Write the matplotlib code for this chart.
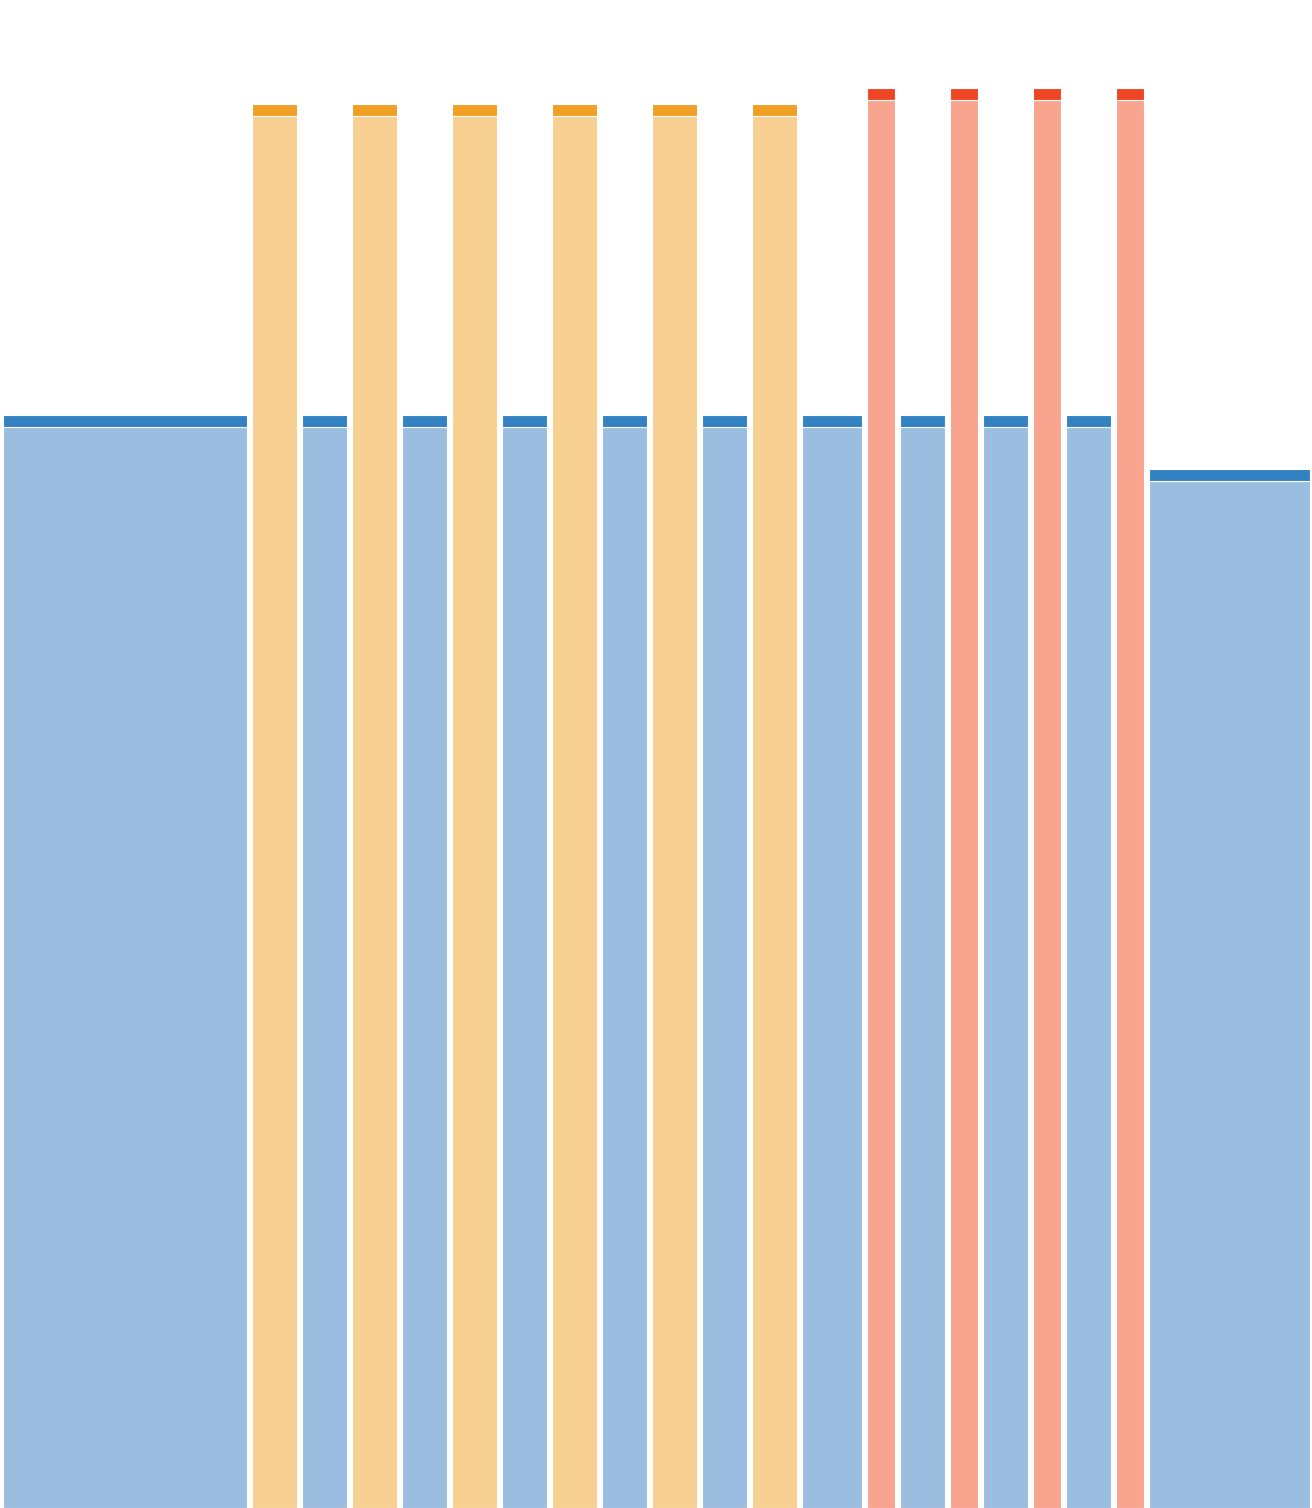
import matplotlib
matplotlib.use("Agg")
import matplotlib.pyplot as plt

# ширины столбцов (в пикселях исходника) и их группы
widths = [244, 45, 45, 45, 45, 45, 45, 45, 45, 45, 45, 45, 60,
          28, 45, 28, 45, 28, 45, 28, 161]
groups = ["blue", "orange", "blue", "orange", "blue", "orange", "blue",
          "orange", "blue", "orange", "blue", "orange", "blue",
          "red", "blue", "red", "blue", "red", "blue", "red", "blue"]

# высота основной части и «шапки» каждого столбца
body = [1081, 1392, 1081, 1392, 1081, 1392, 1081, 1392, 1081, 1392, 1081,
        1392, 1081, 1408, 1081, 1408, 1081, 1408, 1081, 1408, 1027]
cap = [12] * 21

light = {"blue": "#9bbee0", "orange": "#f7d092", "red": "#f8a48e"}
dark = {"blue": "#3282c2", "orange": "#f0a024", "red": "#ee4524"}

gap = 5
start = 3


def main() -> None:
    fig = plt.figure(figsize=(13.12, 15.08), dpi=100)
    ax = fig.add_axes([0, 0, 1, 1])

    x = start
    for w, g, b, c in zip(widths, groups, body, cap):
        ax.bar(x, b, width=w, align="edge", color=light[g],
               edgecolor="white", linewidth=0.8)
        ax.bar(x, c, width=w, bottom=b, align="edge", color=dark[g],
               edgecolor="white", linewidth=0.8)
        x += w + gap

    ax.set_xlim(0, 1312)
    ax.set_ylim(0, 1508)
    ax.axis("off")

    fig.savefig("out.png", dpi=100, facecolor="white")


if __name__ == "__main__":
    main()
